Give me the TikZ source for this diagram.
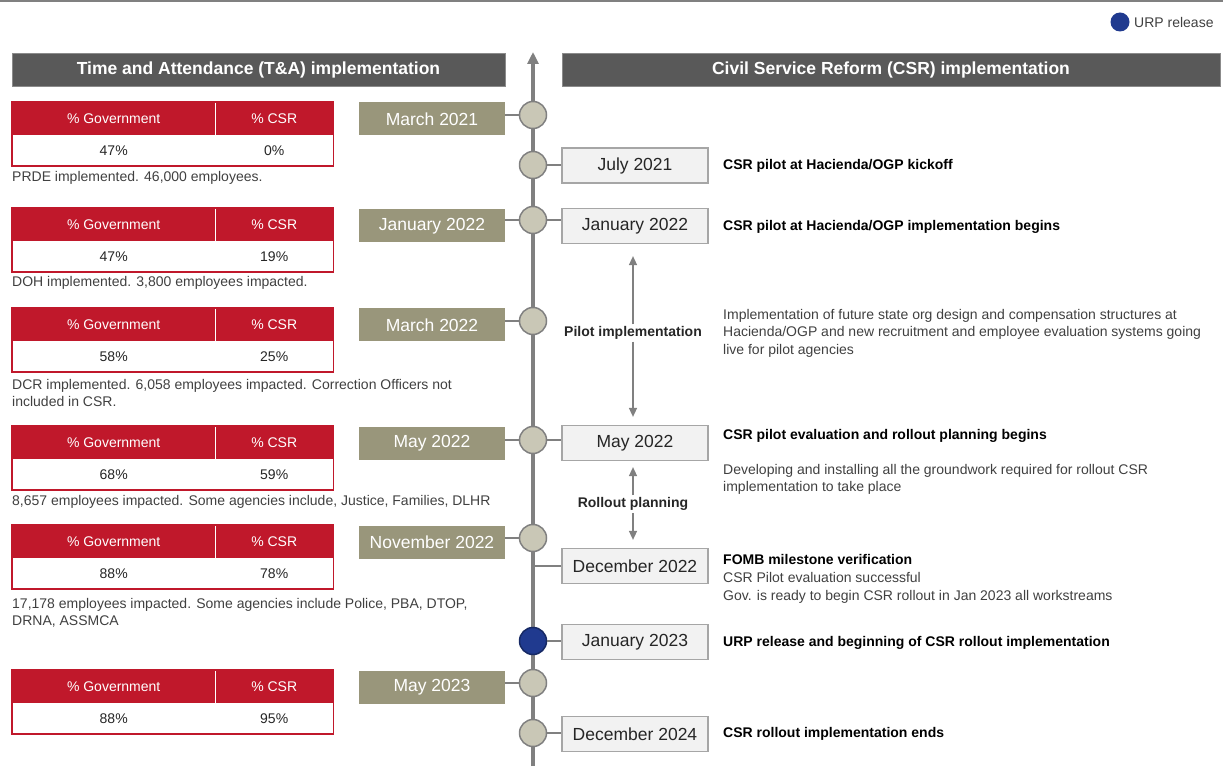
\documentclass[tikz,border=0pt]{standalone}
\usepackage{fontspec}
\setmainfont{Liberation Sans}
\usetikzlibrary{arrows.meta}

\definecolor{hdrgray}{HTML}{595959}
\definecolor{olivebox}{HTML}{99967B}
\definecolor{tickfill}{HTML}{C9C7B6}
\definecolor{linegray}{HTML}{808080}
\definecolor{urpblue}{HTML}{203A8F}
\definecolor{tared}{HTML}{C0182B}
\definecolor{boxfill}{HTML}{F2F2F2}
\definecolor{boxline}{HTML}{A6A6A6}
\definecolor{txtdark}{HTML}{262626}
\definecolor{txtgray}{HTML}{404040}

\newcommand\fs[2]{\fontsize{#1}{#2}\selectfont}

% one T&A percentage table: #1 name, #2 top edge, #3 government, #4 CSR
\newcommand\tatbl[4]{%
  \node[redcell, minimum width=203pt, anchor=north west] (#1g) at (12,#2) {\% Government};
  \node[redcell, minimum width=118pt, anchor=north west] (#1c) at (215,#2) {\% CSR};
  \node[valcell, minimum width=203pt, anchor=north west] (#1gv) at (#1g.south west) {#3};
  \node[valcell, minimum width=118pt, anchor=north west] (#1cv) at (#1c.south west) {#4};
  \draw[tared, line width=1.6pt] (#1g.north west) rectangle (#1cv.south east);
  \draw[white, line width=1.8pt] ([yshift=-1pt]#1g.north east) -- (#1g.south east);
}

\tikzset{
  hdr/.style={fill=hdrgray, draw=hdrgray!70, line width=0.6pt, text=white,
    font=\fs{17.5}{20}\bfseries, minimum height=33pt, inner sep=0pt},
  datel/.style={fill=olivebox, text=white, font=\fs{17.5}{20},
    minimum width=146pt, minimum height=33pt, inner sep=0pt},
  dater/.style={fill=boxfill, draw=boxline, line width=1.2pt, text=txtdark,
    font=\fs{17.5}{20}, minimum width=146pt, minimum height=35pt, inner sep=0pt},
  tick/.style={circle, fill=tickfill, draw=linegray, line width=1.5pt,
    minimum size=27pt, inner sep=0pt},
  urptick/.style={tick, fill=urpblue, draw=urpblue!70!black},
  conn/.style={draw=linegray, line width=1.5pt},
  timeline/.style={draw=linegray, line width=3.5pt,
    -{Triangle[width=11pt,length=12pt]}},
  span/.style={draw=linegray, line width=1.5pt,
    -{Triangle[width=8pt,length=9pt]}},
  redcell/.style={fill=tared, text=white, font=\fs{14}{17},
    minimum height=33pt, inner sep=0pt},
  valcell/.style={fill=white, text=txtdark, font=\fs{14}{17},
    minimum height=30pt, inner sep=0pt},
  note/.style={anchor=west, align=left, text=txtgray, font=\fs{14}{17},
    inner sep=0pt},
  evbold/.style={anchor=west, align=left, text=black, font=\fs{14}{17}\bfseries,
    inner sep=0pt},
  evtext/.style={anchor=west, align=left, text=txtgray, font=\fs{14}{17.5},
    inner sep=0pt},
  spanlbl/.style={text=txtdark, font=\fs{14}{17}\bfseries, inner sep=2pt}
}

\begin{document}
\begin{tikzpicture}[x=1pt, y=-1pt]
\useasboundingbox (0,0) rectangle (1223,783);

% top rule
\draw[linegray, line width=2pt] (0,1) -- (1223,1);

% legend
\node[circle, fill=urpblue, minimum size=19pt, inner sep=0pt] (lgdot) at (1120,22) {};
\node[anchor=west, text=txtgray, font=\fs{14}{16}, inner sep=0pt] (lgtxt) at (1134,22.5) {URP release};

% column headers
\node[hdr, minimum width=493pt] (hta) at (258.5,69.5) {Time and Attendance (T\&A) implementation};
\node[hdr, minimum width=658pt] (hcsr) at (891,69.5) {Civil Service Reform (CSR) implementation};

% time axis
\coordinate (tlbot) at (533,766);
\coordinate (tltop) at (533,52);
\draw[timeline] (tlbot) -- (tltop);

% milestones on the axis
\node[tick] (c1) at (533,115) {};
\node[tick] (c2) at (533,165) {};
\node[tick] (c3) at (533,220) {};
\node[tick] (c4) at (533,321) {};
\node[tick] (c5) at (533,440) {};
\node[tick] (c6) at (533,538) {};
\coordinate (c7) at (533,566);
\node[urptick] (c8) at (533,641) {};
\node[tick] (c9) at (533,683) {};
\node[tick] (c10) at (533,733) {};

% T&A dates (left)
\node[datel] (l1) at (432,119) {March 2021};
\node[datel] (l2) at (432,226) {January 2022};
\node[datel] (l3) at (432,325) {March 2022};
\node[datel] (l4) at (432,443) {May 2022};
\node[datel] (l5) at (432,542) {November 2022};
\node[datel] (l6) at (432,687) {May 2023};

% CSR dates (right)
\node[dater] (r1) at (635,165.5) {July 2021};
\node[dater] (r2) at (635,226) {January 2022};
\node[dater] (r3) at (635,443) {May 2022};
\node[dater] (r4) at (635,566) {December 2022};
\node[dater] (r5) at (635,642) {January 2023};
\node[dater] (r6) at (635,734) {December 2024};

% connectors between axis and date boxes
\draw[conn] (c1.west) -- (c1.west -| l1.east);
\draw[conn] (c3.west) -- (c3.west -| l2.east);
\draw[conn] (c4.west) -- (c4.west -| l3.east);
\draw[conn] (c5.west) -- (c5.west -| l4.east);
\draw[conn] (c6.west) -- (c6.west -| l5.east);
\draw[conn] (c9.west) -- (c9.west -| l6.east);
\draw[conn] (c2.east) -- (c2.east -| r1.west);
\draw[conn] (c3.east) -- (c3.east -| r2.west);
\draw[conn] (c5.east) -- (c5.east -| r3.west);
\draw[conn] (c7) -- (r4.west);
\draw[conn] (c8.east) -- (c8.east -| r5.west);
\draw[conn] (c10.east) -- (c10.east -| r6.west);

% phase spans
\node[spanlbl] (pilot) at (633,333) {Pilot implementation};
\draw[span, shorten >=12pt] (pilot.north) -- (pilot.north |- r2.south);
\draw[span, shorten >=8pt] (pilot.south) -- (pilot.south |- r3.north);
\node[spanlbl] (roll) at (633,504) {Rollout planning};
\draw[span, shorten >=6pt] (roll.north) -- (roll.north |- r3.south);
\draw[span, shorten >=8pt] (roll.south) -- (roll.south |- r4.north);

% CSR events
\node[evbold] (e1) at (723,166) {CSR pilot at Hacienda/OGP kickoff};
\node[evbold] (e2) at (723,227) {CSR pilot at Hacienda/OGP implementation begins};
\node[evtext] (e3) at (723,333) {Implementation of future state org design and compensation structures at\\Hacienda/OGP and new recruitment and employee evaluation systems going\\live for pilot agencies};
\node[evbold] (e4) at (723,436) {CSR pilot evaluation and rollout planning begins};
\node[evtext] (e5) at (723,479.5) {Developing and installing all the groundwork required for rollout CSR\\implementation to take place};
\node[evbold] (e6) at (723,559) {FOMB milestone verification};
\node[evtext] (e7) at (723,588) {CSR Pilot evaluation successful\\Gov. is ready to begin CSR rollout in Jan 2023 all workstreams};
\node[evbold] (e8) at (723,643) {URP release and beginning of CSR rollout implementation};
\node[evbold] (e9) at (723,734) {CSR rollout implementation ends};

% T&A coverage tables
\tatbl{t1}{102}{47\%}{0\%}
\tatbl{t2}{208}{47\%}{19\%}
\tatbl{t3}{308}{58\%}{25\%}
\tatbl{t4}{426}{68\%}{59\%}
\tatbl{t5}{525}{88\%}{78\%}
\tatbl{t6}{670}{88\%}{95\%}

% T&A notes
\node[note] (n1) at (12,178) {PRDE implemented. 46,000 employees.};
\node[note] (n2) at (12,283) {DOH implemented. 3,800 employees impacted.};
\node[note] (n3) at (12,392.5) {DCR implemented. 6,058 employees impacted. Correction Officers not\\included in CSR.};
\node[note] (n4) at (12,502) {8,657 employees impacted. Some agencies include, Justice, Families, DLHR};
\node[note] (n5) at (12,612.5) {17,178 employees impacted. Some agencies include Police, PBA, DTOP,\\DRNA, ASSMCA};
\end{tikzpicture}
\end{document}
